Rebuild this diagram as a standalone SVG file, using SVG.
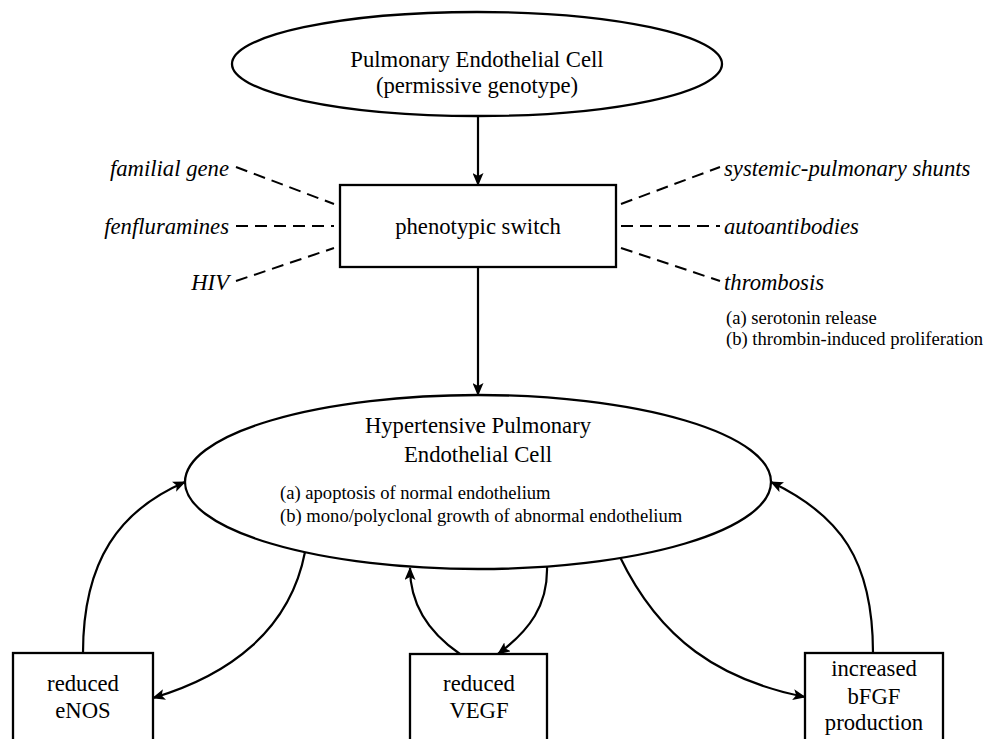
<svg xmlns="http://www.w3.org/2000/svg" width="990" height="739" viewBox="0 0 990 739" font-family="'Liberation Serif','Times New Roman',Times,serif">
<defs>
<marker id="ah" markerUnits="userSpaceOnUse" markerWidth="13" markerHeight="11" refX="12" refY="5.5" orient="auto">
<path d="M0,0 L13,5.5 L0,11 L3,5.5 z" fill="#000"/>
</marker>
<style>
text{font-family:"Liberation Serif","Times New Roman",Times,serif;fill:#000}
.t{font-size:22.7px;text-anchor:middle}
.i{font-size:22.7px;font-style:italic}
.s{font-size:18.6px}
.shape{fill:#fff;stroke:#000;stroke-width:2.3}
.c{fill:none;stroke:#000;stroke-width:2.2}
.d{fill:none;stroke:#000;stroke-width:2;stroke-dasharray:12 7}
</style>
</defs>
<rect width="990" height="739" fill="#fff"/>
<g id="connectors">
<line class="c" x1="478" y1="116" x2="478" y2="185" marker-end="url(#ah)"/>
<line class="c" x1="478" y1="267" x2="478" y2="395" marker-end="url(#ah)"/>
<line class="d" x1="236" y1="167" x2="334" y2="204"/>
<line class="d" x1="236" y1="226" x2="334" y2="226"/>
<line class="d" x1="236" y1="281" x2="334" y2="248"/>
<line class="d" x1="621" y1="204" x2="720" y2="167"/>
<line class="d" x1="621" y1="226" x2="720" y2="226"/>
<line class="d" x1="621" y1="248" x2="720" y2="281"/>
<path class="c" d="M83,653 C83,560 120,510 185,482" marker-end="url(#ah)"/>
<path class="c" d="M305,552 C290,630 230,675 153,698" marker-end="url(#ah)"/>
<path class="c" d="M460,654 C425,630 410,600 410,568" marker-end="url(#ah)"/>
<path class="c" d="M547,567 C548,605 530,630 498,654" marker-end="url(#ah)"/>
<path class="c" d="M873,653 C873,560 840,515 771,482" marker-end="url(#ah)"/>
<path class="c" d="M620,557 C660,640 720,680 805,697" marker-end="url(#ah)"/>
</g>
<g id="node-pulmonary-cell">
<ellipse class="shape" cx="477" cy="64" rx="245" ry="52"/>
<text class="t" x="477" y="67">Pulmonary Endothelial Cell</text>
<text class="t" x="477" y="93">(permissive genotype)</text>
</g>
<g id="node-switch">
<rect class="shape" x="340" y="185" width="276" height="82"/>
<text class="t" x="478" y="234">phenotypic switch</text>
</g>
<g id="factors-left">
<text class="i" x="229" y="176" text-anchor="end">familial gene</text>
<text class="i" x="229" y="234" text-anchor="end">fenfluramines</text>
<text class="i" x="229" y="290" text-anchor="end">HIV</text>
</g>
<g id="factors-right">
<text class="i" x="724" y="176">systemic-pulmonary shunts</text>
<text class="i" x="724" y="234">autoantibodies</text>
<text class="i" x="724" y="290">thrombosis</text>
</g>
<g id="note-right">
<text class="s" x="726" y="324">(a) serotonin release</text>
<text class="s" x="726" y="345">(b) thrombin-induced proliferation</text>
</g>
<g id="node-hypertensive-cell">
<ellipse class="shape" cx="478" cy="482" rx="293" ry="87"/>
<text class="t" x="478" y="433">Hypertensive Pulmonary</text>
<text class="t" x="478" y="462">Endothelial Cell</text>
<text class="s" x="280" y="499">(a) apoptosis of normal endothelium</text>
<text class="s" x="280" y="522">(b) mono/polyclonal growth of abnormal endothelium</text>
</g>
<g id="node-enos">
<rect class="shape" x="13" y="653" width="140" height="100"/>
<text class="t" x="83" y="691">reduced</text>
<text class="t" x="83" y="718">eNOS</text>
</g>
<g id="node-vegf">
<rect class="shape" x="410" y="654" width="137" height="100"/>
<text class="t" x="479" y="691">reduced</text>
<text class="t" x="479" y="718">VEGF</text>
</g>
<g id="node-bfgf">
<rect class="shape" x="805" y="653" width="138" height="100"/>
<text class="t" x="874" y="676">increased</text>
<text class="t" x="874" y="704">bFGF</text>
<text class="t" x="874" y="730">production</text>
</g>
</svg>
